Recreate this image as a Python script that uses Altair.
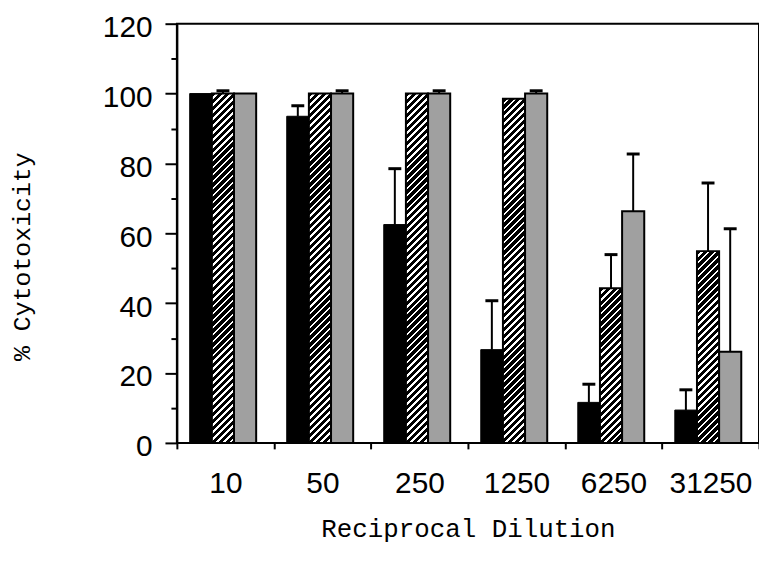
import altair as alt
import pandas as pd

# ---- data ----
dilutions = ["10", "50", "250", "1250", "6250", "31250"]
series = ["A", "B", "C"]  # A = solid black, B = hatched, C = dotted
black_vals = [100, 93.5, 62.5, 26.7, 11.6, 9.4]
black_err = [0, 3.0, 16.0, 14.0, 5.2, 5.8]
hatch_vals = [100, 100, 100, 98.5, 44.3, 54.9]
hatch_err = [0.8, 0, 0, 0, 9.6, 19.5]
dot_vals = [100, 100, 100, 100, 66.3, 26.1]
dot_err = [0, 0.8, 0.8, 0.8, 16.4, 35.2]

rows = []
for i, d in enumerate(dilutions):
    rows.append({"dil": d, "s": "A", "v": black_vals[i], "e": black_err[i]})
    rows.append({"dil": d, "s": "B", "v": hatch_vals[i], "e": hatch_err[i]})
    rows.append({"dil": d, "s": "C", "v": dot_vals[i], "e": dot_err[i]})
df = pd.DataFrame(rows)
df["top"] = df["v"] + df["e"]

W, H = 586, 422
OUTER = 0.69
BAR_W = W / len(dilutions) / (3 + 2 * OUTER)


def hatch_fill(value, period=7.0, frac=0.62):
    """Linear gradient with hard stops that looks like '////' hatching."""
    h = value / 120.0 * H
    w = BAR_W
    k = (w + h) / (w * w + h * h)
    n = (w + h) / period
    stops = []
    i = 0
    while i < n:
        a, b, c = i / n, (i + frac) / n, (i + 1) / n
        stops += [
            {"offset": min(a, 1), "color": "black"},
            {"offset": min(b, 1), "color": "black"},
            {"offset": min(b, 1), "color": "white"},
            {"offset": min(c, 1), "color": "white"},
        ]
        i += 1
    return {"gradient": "linear", "x1": 0, "y1": 0, "x2": w * k, "y2": h * k, "stops": stops}


x_enc = alt.X(
    "dil:N",
    sort=dilutions,
    scale=alt.Scale(paddingInner=0, paddingOuter=0),
    axis=alt.Axis(
        tickBand="extent",
        tickSize=6,
        tickWidth=2,
        tickColor="black",
        domain=False,
        labelAngle=0,
        labelFont="Liberation Sans",
        labelFontSize=30,
        labelColor="black",
        labelPadding=20,
        title="Reciprocal Dilution",
        titleFont="Liberation Mono",
        titleFontSize=26,
        titleFontWeight="normal",
        titleColor="black",
        titleY=86,
        titleBaseline="middle",
    ),
)
xo_enc = alt.XOffset(
    "s:N",
    scale=alt.Scale(domain=series, paddingInner=0, paddingOuter=OUTER, align=0.42),
)
y_axis = alt.Axis(
    values=list(range(0, 121, 10)),
    tickSize={"condition": {"test": "datum.value % 20 === 0", "value": 12}, "value": 6},
    labelExpr="datum.value % 20 === 0 ? datum.label : ''",
    labelFont="Liberation Sans",
    labelFontSize=30,
    labelColor="black",
    labelPadding=13,
    labelOffset=4,
    tickColor="black",
    tickWidth=2,
    domainColor="black",
    domainWidth=2,
    grid=False,
    title="% Cytotoxicity",
    titleFont="Liberation Mono",
    titleFontSize=25,
    titleFontWeight="normal",
    titleColor="black",
    titleX=-156,
    titleY=234,
    titleBaseline="middle",
)
y_scale = alt.Scale(domain=[0, 120], nice=False)

base = alt.Chart(df).encode(x=x_enc, xOffset=xo_enc)

black_layer = base.transform_filter("datum.s === 'A'").mark_bar(
    fill="black", stroke="black", strokeWidth=1
).encode(y=alt.Y("v:Q", scale=y_scale, axis=y_axis))

hatch_layers = []
for i, d in enumerate(dilutions):
    hatch_layers.append(
        base.transform_filter(f"datum.s === 'B' && datum.dil === '{d}'")
        .mark_bar(fill=hatch_fill(hatch_vals[i]), stroke="black", strokeWidth=2)
        .encode(y=alt.Y("v:Q", scale=y_scale, axis=y_axis))
    )

dot_layer = base.transform_filter("datum.s === 'C'").mark_bar(
    fill="#a0a0a0", stroke="black", strokeWidth=2
).encode(y=alt.Y("v:Q", scale=y_scale, axis=y_axis))

err_rule = base.transform_filter("datum.e > 0").mark_rule(
    color="black", strokeWidth=2
).encode(y=alt.Y("v:Q", scale=y_scale, axis=y_axis), y2="top:Q")

err_cap = base.transform_filter("datum.e > 0").mark_tick(
    orient="horizontal", size=13, thickness=3, color="black", opacity=1
).encode(y=alt.Y("top:Q", scale=y_scale, axis=y_axis))

chart = (
    alt.layer(black_layer, *hatch_layers, dot_layer, err_rule, err_cap)
    .properties(
        width=W,
        height=H,
        autosize=alt.AutoSizeParams(type="none"),
        padding={"left": 170, "top": 14, "right": 0, "bottom": 106},
        background="white",
    )
    .configure_view(stroke="black", strokeWidth=2)
)

chart.save("out.html", embed_options={"renderer": "svg", "actions": False})
